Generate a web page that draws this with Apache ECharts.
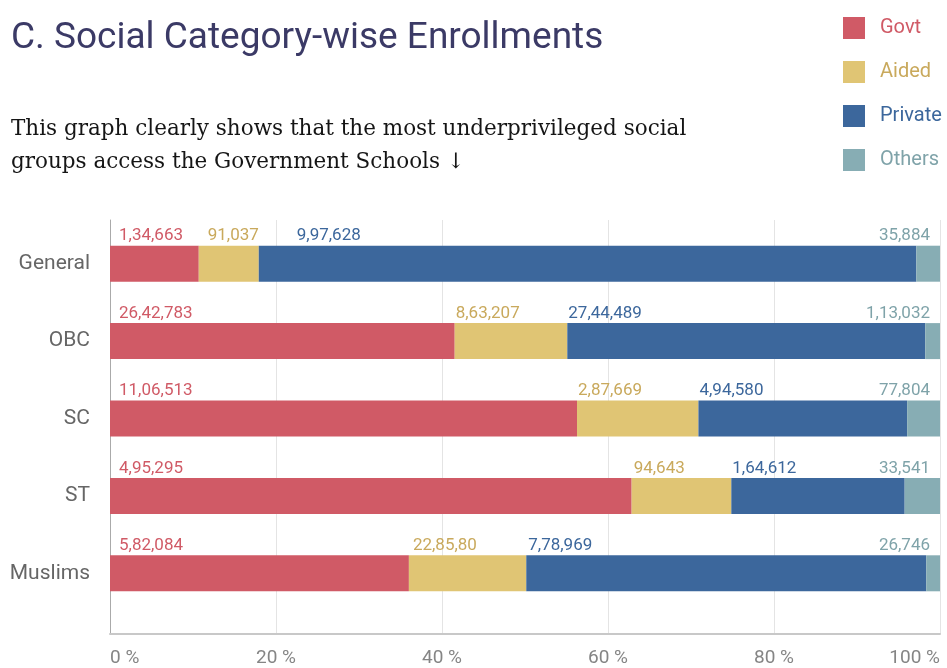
<!DOCTYPE html>
<html><head><meta charset="utf-8">
<script src="https://cdn.jsdelivr.net/npm/echarts@6/dist/echarts.min.js"></script>
<style>html,body{margin:0;padding:0;background:#fff}#c{width:947px;height:668px}</style>
</head><body><div id="c"></div>
<script>
const categories = ['General','OBC','SC','ST','Muslims'];
const govt = [134663, 2642783, 1106513, 495295, 582084];
const aided = [91037, 863207, 287669, 94643, 228580];
const priv = [997628, 2744489, 494580, 164612, 778969];
const others = [35884, 113032, 77804, 33541, 26746];
const govtLabels = ['1,34,663','26,42,783','11,06,513','4,95,295','5,82,084'];
const aidedLabels = ['91,037','8,63,207','2,87,669','94,643','22,85,80'];
const privateLabels = ['9,97,628','27,44,489','4,94,580','1,64,612','7,78,969'];
const othersLabels = ['35,884','1,13,032','77,804','33,541','26,746'];
const xTicks = [0, 20, 40, 60, 80, 100];

const totals = categories.map((c, i) => govt[i] + aided[i] + priv[i] + others[i]);
const FONT = 'Roboto';

function makeSeries(name, values, labels, color, labelColor, offsets, last) {
  return {
    name: name, type: 'bar', stack: 'all', xAxisIndex: 1, yAxisIndex: 1,
    barWidth: 36, itemStyle: { color: color },
    data: values.map((v, i) => ({
      value: v / totals[i] * 100,
      label: last
        ? { position: ['100%', -1], offset: [-10, 0], align: 'right', verticalAlign: 'bottom' }
        : { position: [offsets[i], -1], align: 'left', verticalAlign: 'bottom' }
    })),
    label: {
      show: true, color: labelColor, fontFamily: FONT, fontSize: 17,
      formatter: p => labels[p.dataIndex]
    },
    emphasis: { disabled: true }
  };
}

const chart = echarts.init(document.getElementById('c'), null, { renderer: 'canvas' });
chart.setOption({
  animation: false,
  backgroundColor: '#fff',
  title: [
    { text: 'C. Social Category-wise Enrollments', left: 6, top: 15,
      textStyle: { fontFamily: FONT, fontSize: 37, fontWeight: 'normal', color: '#3b3a66' } },
    { text: 'This graph clearly shows that the most underprivileged social\ngroups access the Government Schools ↓', left: 6, top: 108,
      textStyle: { fontFamily: 'DejaVu Serif', fontSize: 21.5, fontWeight: 'normal', color: '#151515', lineHeight: 33 } }
  ],
  legend: {
    orient: 'vertical', left: 838, top: 12, itemWidth: 22, itemHeight: 22, itemGap: 22,
    icon: 'rect', selectedMode: false,
    textStyle: { fontFamily: FONT, fontSize: 20, padding: [0, 0, 0, 10] },
    data: [
      { name: 'Govt', textStyle: { color: '#d05a66' } },
      { name: 'Aided', textStyle: { color: '#c9a95c' } },
      { name: 'Private', textStyle: { color: '#3c679c' } },
      { name: 'Others', textStyle: { color: '#7fa3a9' } }
    ]
  },
  grid: [
    { left: 110, right: 7, top: 220, height: 414 },
    { left: 110, right: 7, top: 225, height: 387 }
  ],
  xAxis: [
    { type: 'value', gridIndex: 0, min: xTicks[0], max: xTicks[xTicks.length - 1], interval: 20,
      axisLine: { show: true, lineStyle: { color: '#c8c8c8', width: 2 } },
      axisTick: { show: false },
      splitLine: { show: true, lineStyle: { color: '#e4e4e4', width: 1 } },
      axisLabel: { show: true, margin: 15, color: '#858585', fontFamily: FONT, fontSize: 19,
        alignMinLabel: 'left', alignMaxLabel: 'right',
        formatter: v => v + ' %' } },
    { type: 'value', gridIndex: 1, min: 0, max: 100, show: false }
  ],
  yAxis: [
    { type: 'value', gridIndex: 0, min: 0, max: 1,
      axisLine: { show: true, lineStyle: { color: '#aaaaaa', width: 1 } },
      axisTick: { show: false }, axisLabel: { show: false }, splitLine: { show: false } },
    { type: 'category', gridIndex: 1, inverse: true, data: categories,
      axisLine: { show: false }, axisTick: { show: false },
      axisLabel: { margin: 20, color: '#666', fontFamily: FONT, fontSize: 21 } }
  ],
  series: [
    makeSeries('Govt', govt, govtLabels, '#d05a66', '#d05a66', [9, 9, 9, 9, 9], false),
    makeSeries('Aided', aided, aidedLabels, '#e0c574', '#c9a95c', [9, 1, 1, 2, 4], false),
    makeSeries('Private', priv, privateLabels, '#3c679c', '#3c679c', [38, 1, 1, 1, 2], false),
    makeSeries('Others', others, othersLabels, '#87adb4', '#7fa3a9', [0, 0, 0, 0, 0], true)
  ]
});
</script></body></html>
